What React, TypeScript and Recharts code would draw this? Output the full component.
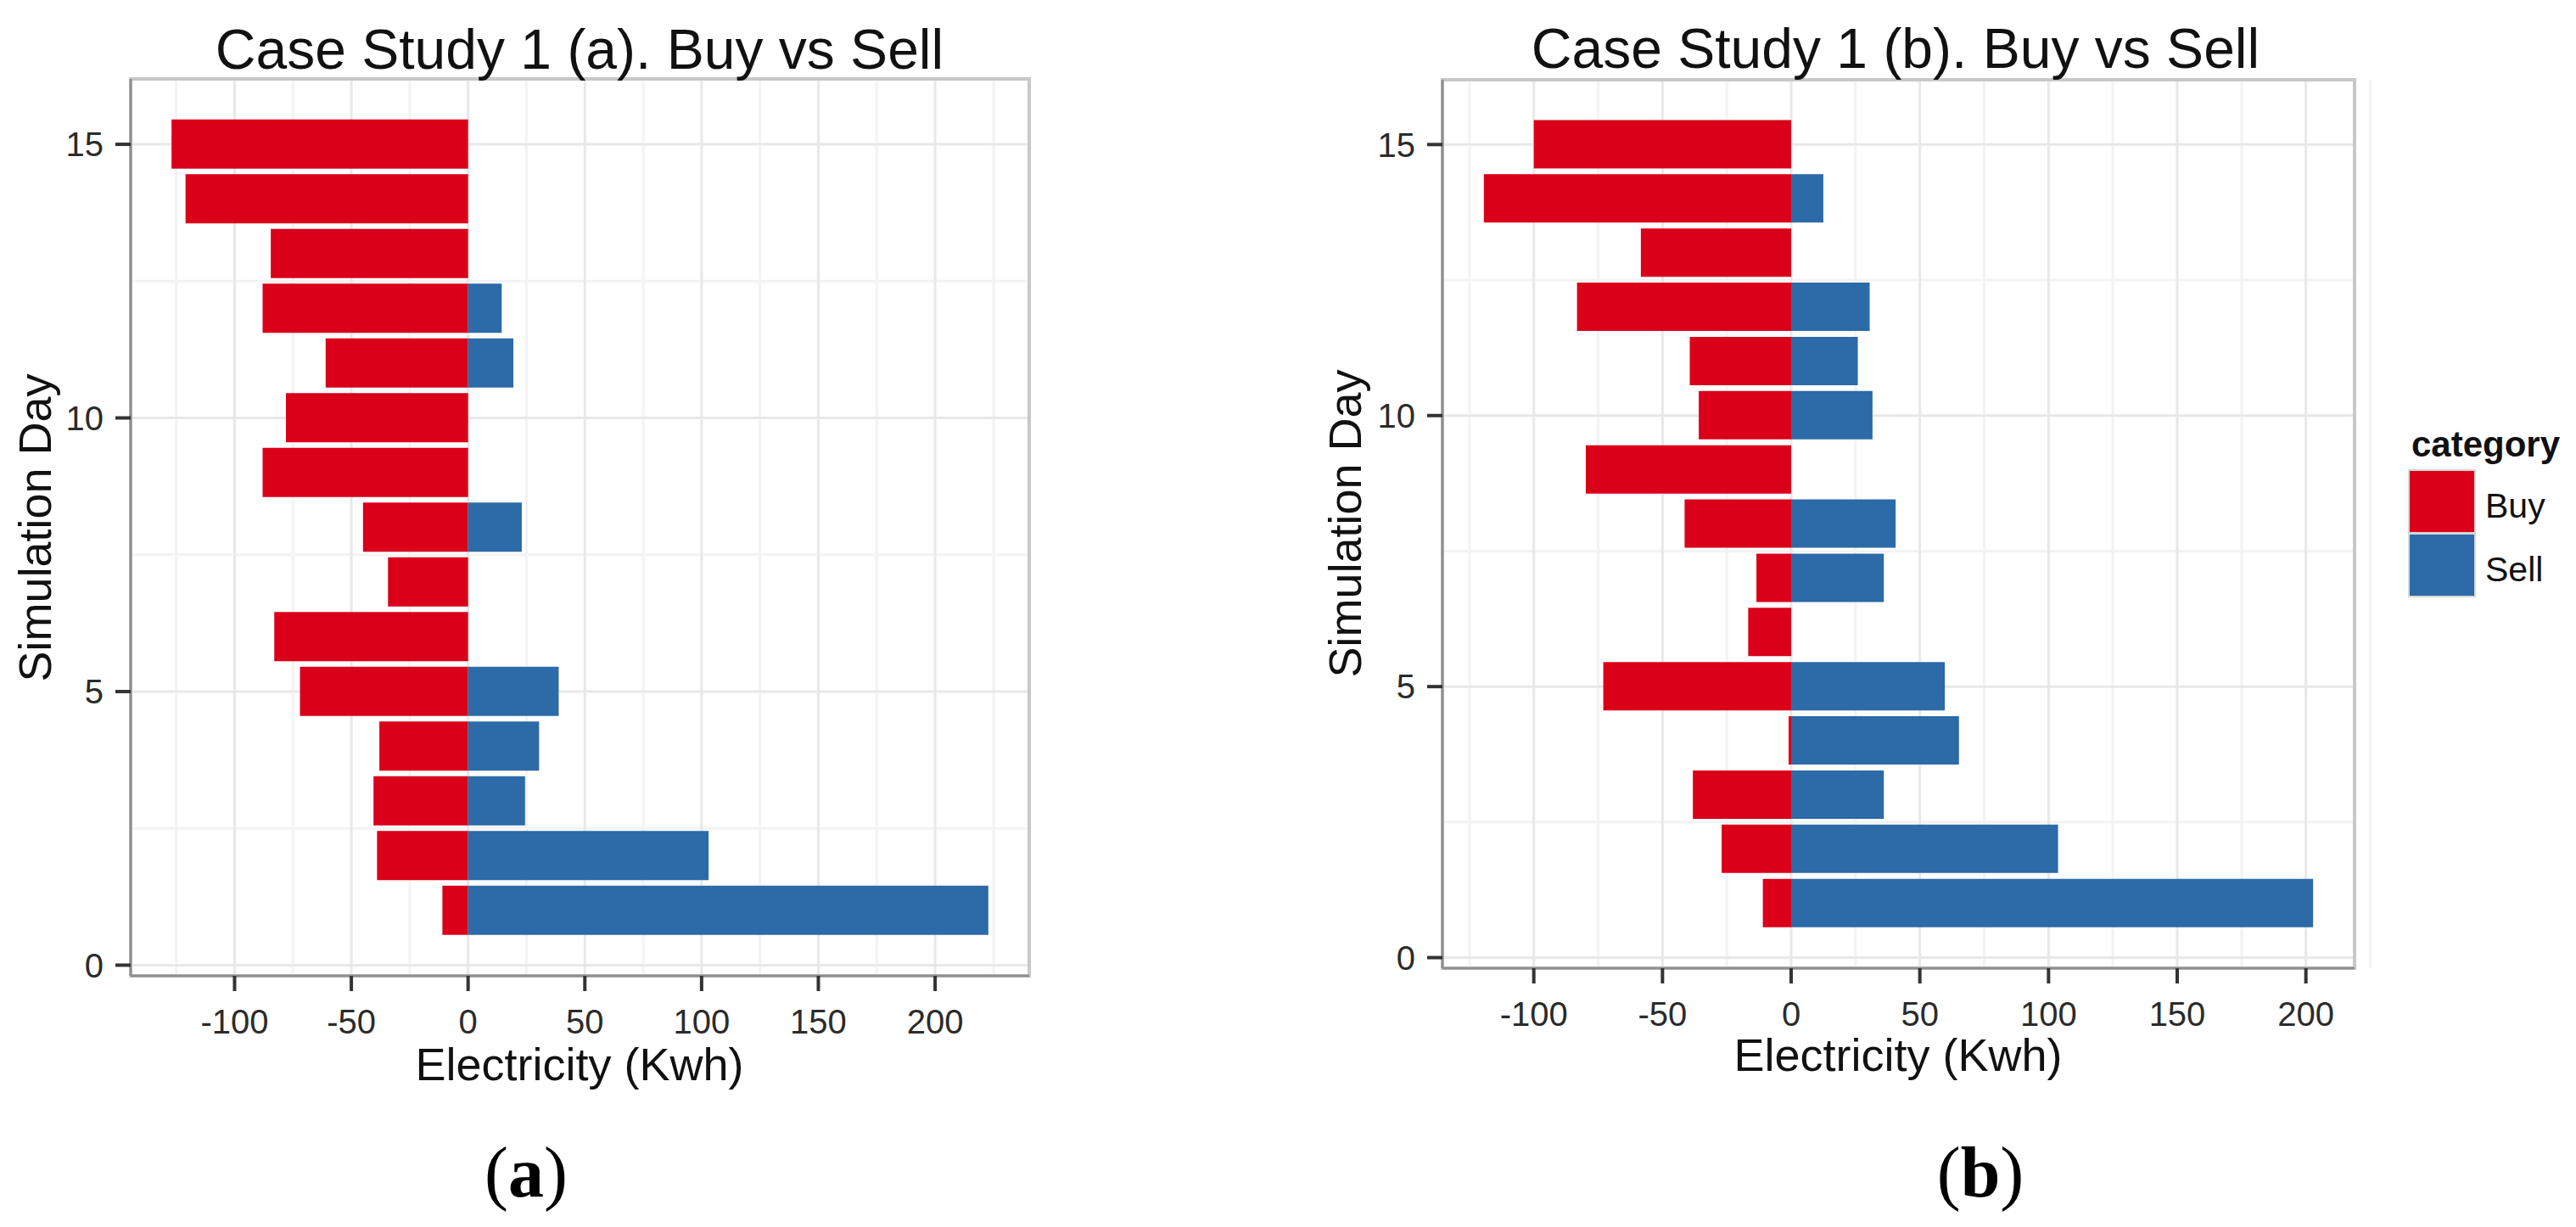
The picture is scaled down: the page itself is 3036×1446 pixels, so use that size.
import React from 'react';
import {
  BarChart,
  Bar,
  XAxis,
  YAxis,
  CartesianGrid,
  ReferenceArea,
} from 'recharts';

// simulation days 1..15, values in Kwh (buy is negative)
const days = [1, 2, 3, 4, 5, 6, 7, 8, 9, 10, 11, 12, 13, 14, 15];

const buyA = [-11, -39, -40.5, -38, -72, -83, -34.3, -45, -88, -78, -61, -88, -84.5, -121, -127];
const sellA = [222.8, 103, 24.4, 30.4, 38.8, 0, 0, 23, 0, 0, 19.4, 14.4, 0, 0, 0];

const buyB = [-11, -27, -38.2, -1, -73, -16.7, -13.5, -41.4, -79.8, -35.9, -39.4, -83.2, -58.4, -119.4, -100];
const sellB = [202.8, 103.7, 36, 65.2, 59.7, 0, 36, 40.6, 0, 31.6, 25.9, 30.5, 0, 12.5, 0];

const xTicks = [-100, -50, 0, 50, 100, 150, 200];
const xMinor = [-125, -75, -25, 25, 75, 125, 175, 225];
const yTicks = [0, 5, 10, 15];
const yMinor = [2.5, 7.5, 12.5];

const xDomainA: [number, number] = [-144.5, 240.3];
const xDomainB: [number, number] = [-135.5, 218.9];
const yDomain: [number, number] = [-0.195, 16.195];

const categories = ['Buy', 'Sell'];

const BUY = '#da001a';
const SELL = '#2c6aa8';
const FONT = '"Liberation Sans", Arial, Helvetica, sans-serif';
const SERIF = '"Liberation Serif", "Times New Roman", serif';

const toRows = (buy: number[], sell: number[]) =>
  days.map((day, i) => ({ day, buy: buy[i], sell: sell[i] }));

interface PanelProps {
  data: { day: number; buy: number; sell: number }[];
  xDomain: [number, number];
  left: number;
  width: number;
  margin: { top: number; right: number; bottom: number; left: number };
  barSize: number;
}

const Panel: React.FC<PanelProps> = ({ data, xDomain, left, width, margin, barSize }) => (
  <div style={{ position: 'absolute', left, top: 0 }}>
    <BarChart
      width={width}
      height={1446}
      data={data}
      layout="vertical"
      stackOffset="sign"
      margin={margin}
    >
      <CartesianGrid
        verticalValues={xMinor}
        horizontalValues={yMinor}
        stroke="#f3f3f3"
        strokeWidth={3}
      />
      <CartesianGrid
        verticalValues={xTicks}
        horizontalValues={yTicks}
        stroke="#e8e8e8"
        strokeWidth={3}
      />
      <ReferenceArea
        x1={xDomain[0]}
        x2={xDomain[1]}
        y1={yDomain[0]}
        y2={yDomain[1]}
        fill="none"
        stroke="#c8c8c8"
        strokeWidth={4}
      />
      <XAxis
        type="number"
        domain={xDomain}
        ticks={xTicks}
        interval={0}
        allowDataOverflow
        height={40}
        tickSize={18}
        tickMargin={22}
        axisLine={{ stroke: '#8f8f8f', strokeWidth: 3 }}
        tickLine={{ stroke: '#333', strokeWidth: 4 }}
        tick={{ fontSize: 40, fill: '#2b2b2b', fontFamily: FONT }}
      />
      <YAxis
        type="number"
        dataKey="day"
        domain={yDomain}
        ticks={yTicks}
        interval={0}
        reversed
        allowDataOverflow
        width={40}
        tickSize={18}
        tickMargin={14}
        axisLine={{ stroke: '#8f8f8f', strokeWidth: 3 }}
        tickLine={{ stroke: '#333', strokeWidth: 4 }}
        tick={{ fontSize: 40, fill: '#2b2b2b', fontFamily: FONT }}
      />
      <Bar dataKey="buy" stackId="s" fill={BUY} barSize={barSize} isAnimationActive={false} />
      <Bar dataKey="sell" stackId="s" fill={SELL} barSize={barSize} isAnimationActive={false} />
    </BarChart>
  </div>
);

const App: React.FC = () => (
  <div
    style={{
      position: 'absolute',
      left: 0,
      top: 0,
      width: 3036,
      height: 1446,
      background: '#fff',
      overflow: 'hidden',
    }}
  >
    <Panel
      data={toRows(buyA, sellA)}
      xDomain={xDomainA}
      left={0}
      width={1240}
      margin={{ top: 93, right: 27, bottom: 256, left: 114 }}
      barSize={58}
    />
    <Panel
      data={toRows(buyB, sellB)}
      xDomain={xDomainB}
      left={1560}
      width={1240}
      margin={{ top: 94, right: 25, bottom: 265, left: 100 }}
      barSize={57}
    />

    <svg
      width={3036}
      height={1446}
      style={{ position: 'absolute', left: 0, top: 0, pointerEvents: 'none' }}
    >
      {/* titles */}
      <text x={683} y={81} textAnchor="middle" fontFamily={FONT} fontSize={66} fill="#111">
        Case Study 1 (a). Buy vs Sell
      </text>
      <text x={2234} y={80} textAnchor="middle" fontFamily={FONT} fontSize={66} fill="#111">
        Case Study 1 (b). Buy vs Sell
      </text>

      {/* axis titles */}
      <text x={683} y={1273} textAnchor="middle" fontFamily={FONT} fontSize={54} fill="#111">
        Electricity (Kwh)
      </text>
      <text x={2237} y={1262} textAnchor="middle" fontFamily={FONT} fontSize={54} fill="#111">
        Electricity (Kwh)
      </text>
      <text
        transform="translate(60,622) rotate(-90)"
        textAnchor="middle"
        fontFamily={FONT}
        fontSize={54}
        fill="#111"
      >
        Simulation Day
      </text>
      <text
        transform="translate(1604,617) rotate(-90)"
        textAnchor="middle"
        fontFamily={FONT}
        fontSize={54}
        fill="#111"
      >
        Simulation Day
      </text>

      {/* legend */}
      <text x={2842} y={538} fontFamily={FONT} fontSize={42} fontWeight="bold" fill="#111">
        category
      </text>
      {categories.map((c, i) => (
        <g key={c}>
          <rect
            x={2839}
            y={554 + i * 75}
            width={78}
            height={74}
            fill={c === 'Buy' ? BUY : SELL}
            stroke="#d6d6d6"
            strokeWidth={2}
          />
          <text x={2929} y={610 + i * 75} fontFamily={FONT} fontSize={41} fill="#111">
            {c}
          </text>
        </g>
      ))}

      {/* sub-figure labels */}
      <text x={620} y={1410} textAnchor="middle" fontFamily={SERIF} fontSize={84} fill="#000">
        (<tspan fontWeight="bold">a</tspan>)
      </text>
      <text x={2334} y={1410} textAnchor="middle" fontFamily={SERIF} fontSize={84} fill="#000">
        (<tspan fontWeight="bold">b</tspan>)
      </text>
    </svg>
  </div>
);

export default App;
